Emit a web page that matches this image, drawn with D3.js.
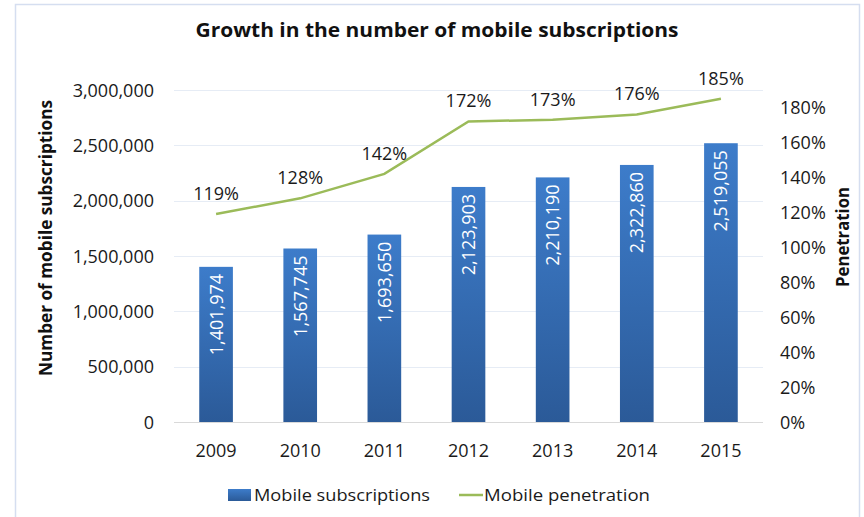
<!DOCTYPE html>
<html><head><meta charset="utf-8">
<script src="https://cdn.jsdelivr.net/npm/d3@7"></script>
<style>
body{margin:0;background:#fff;}
text{font-family:"Open Sans",Lato,sans-serif;}
</style></head>
<body><svg id="c" width="864" height="517"></svg>
<script>
const years = ["2009","2010","2011","2012","2013","2014","2015"];
const subscriptions = [1401974,1567745,1693650,2123903,2210190,2322860,2519055];
const penetration = [119,128,142,172,173,176,185];
const leftTicks = [0,500000,1000000,1500000,2000000,2500000,3000000];
const rightTicks = [0,20,40,60,80,100,120,140,160,180];

const svg = d3.select("#c");
const fmt = d3.format(",");
svg.append("path").attr("d","M15.5,517 V4.5 H859.5 V517").attr("fill","none").attr("stroke","#d5def0").attr("stroke-width",1.5);

const x = d3.scaleBand().domain(years).range([174,763]).paddingInner(0.6).paddingOuter(0.3);
const yL = d3.scaleLinear().domain([0,3000000]).range([422,90]);
const yR = d3.scaleLinear().domain([0,190]).range([422,90]);

const defs = svg.append("defs");
const g = defs.append("linearGradient").attr("id","bg").attr("x1",0).attr("y1",0).attr("x2",0).attr("y2",1);
g.append("stop").attr("offset","0%").attr("stop-color","#3d7cca");
g.append("stop").attr("offset","100%").attr("stop-color","#2b5a98");

svg.append("g").selectAll("line").data(leftTicks.slice(1)).join("line")
  .attr("x1",174).attr("x2",763).attr("y1",d=>Math.round(yL(d))+0.5).attr("y2",d=>Math.round(yL(d))+0.5)
  .attr("stroke","#e6ecf5").attr("stroke-width",1);

svg.append("g").selectAll("rect").data(years).join("rect")
  .attr("x",d=>x(d)).attr("width",x.bandwidth())
  .attr("y",(d,i)=>yL(subscriptions[i])).attr("height",(d,i)=>422-yL(subscriptions[i]))
  .attr("fill","url(#bg)");

svg.append("g").selectAll("text").data(years).join("text")
  .attr("transform",(d,i)=>`translate(${x(d)+x.bandwidth()/2+6.5},${yL(subscriptions[i])+7}) rotate(-90)`)
  .attr("text-anchor","end").attr("fill","#fff").attr("font-size",18)
  .text((d,i)=>fmt(subscriptions[i]));

svg.append("line").attr("x1",174).attr("x2",763).attr("y1",422.5).attr("y2",422.5).attr("stroke","#d9d9d9");

const xAxis = d3.axisBottom(x).tickSize(0).tickPadding(0);
const xa = svg.append("g").attr("transform","translate(0,422)").call(xAxis);
xa.select(".domain").remove();
xa.selectAll("text").attr("font-size",18).attr("fill","#1a1a1a").attr("dy","0").attr("y",35).attr("font-family","\"Open Sans\",sans-serif");

const la = svg.append("g").attr("transform","translate(154,0)").call(d3.axisLeft(yL).tickValues(leftTicks).tickFormat(fmt).tickSize(0).tickPadding(0));
la.select(".domain").remove();
la.selectAll("text").attr("font-size",18).attr("fill","#1a1a1a").attr("font-family","\"Open Sans\",sans-serif").attr("dy","0.35em");

const ra = svg.append("g").attr("transform","translate(780,0)").call(d3.axisRight(yR).tickValues(rightTicks).tickFormat(d=>d+"%").tickSize(0).tickPadding(0));
ra.select(".domain").remove();
ra.selectAll("text").attr("font-size",18).attr("fill","#1a1a1a").attr("font-family","\"Open Sans\",sans-serif").attr("dy","0.35em");

const line = d3.line().x((d,i)=>x(years[i])+x.bandwidth()/2).y(d=>yR(d));
svg.append("path").datum(penetration).attr("d",line).attr("fill","none").attr("stroke","#9bbb59").attr("stroke-width",2.5);

svg.append("g").selectAll("text").data(penetration).join("text")
  .attr("x",(d,i)=>x(years[i])+x.bandwidth()/2).attr("y",d=>yR(d)-14)
  .attr("text-anchor","middle").attr("font-size",18).attr("fill","#1a1a1a").text(d=>d+"%");

svg.append("text").attr("x",437).attr("y",37).attr("text-anchor","middle").attr("font-size",19).attr("font-weight","bold")
  .attr("fill","#111").attr("textLength",483).attr("lengthAdjust","spacingAndGlyphs").text("Growth in the number of mobile subscriptions");

svg.append("text").attr("transform","translate(52,238) rotate(-90)").attr("text-anchor","middle").attr("font-size",17).attr("font-weight","bold")
  .attr("fill","#111").attr("textLength",276).attr("lengthAdjust","spacingAndGlyphs").text("Number of mobile subscriptions");
svg.append("text").attr("transform","translate(849,237) rotate(-90)").attr("text-anchor","middle").attr("font-size",17).attr("font-weight","bold")
  .attr("fill","#111").attr("textLength",100).attr("lengthAdjust","spacingAndGlyphs").text("Penetration");

const lg = svg.append("g");
lg.append("rect").attr("x",228).attr("y",489).attr("width",23).attr("height",12).attr("fill","url(#bg)");
lg.append("text").attr("x",254).attr("y",501).attr("font-size",17).attr("fill","#1a1a1a").attr("textLength",176).attr("lengthAdjust","spacingAndGlyphs").text("Mobile subscriptions");
lg.append("line").attr("x1",459).attr("x2",483).attr("y1",495).attr("y2",495).attr("stroke","#9bbb59").attr("stroke-width",2.5);
lg.append("text").attr("x",484).attr("y",501).attr("font-size",17).attr("fill","#1a1a1a").attr("textLength",166).attr("lengthAdjust","spacingAndGlyphs").text("Mobile penetration");
</script></body></html>
